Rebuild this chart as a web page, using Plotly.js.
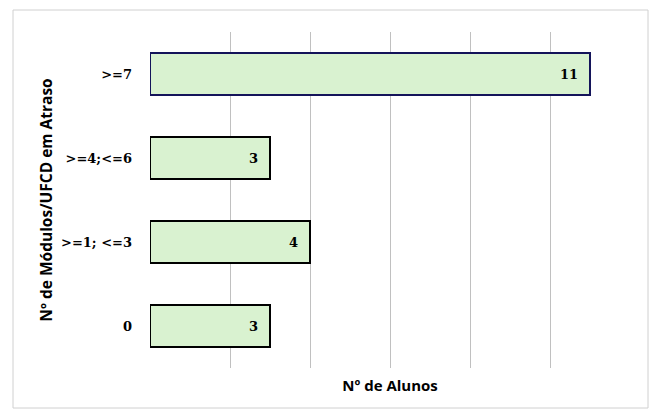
<!DOCTYPE html>
<html>
<head>
<meta charset="utf-8">
<script src="https://cdn.plot.ly/plotly-3.0.1.min.js"></script>
<style>html,body{margin:0;padding:0;background:#fff;}#chart{width:654px;height:409px;}</style>
</head>
<body>
<div id="chart"></div>
<script>
var categories = ["0", ">=1; <=3", ">=4;<=6", ">=7"];
var alunos = [3, 4, 3, 11];
var outlineColors = ["#000000", "#000000", "#000000", "#14145a"];

var trace = {
  type: "bar",
  orientation: "h",
  x: alunos,
  y: categories,
  marker: {color: "#d9f2d0", line: {color: outlineColors, width: 2}},
  width: 0.5,
  hoverinfo: "none"
};

var serif = {family: "DejaVu Serif, serif", size: 13, color: "#000", weight: "bold"};
var sans = {family: "Open Sans, sans-serif", size: 15, color: "#000", weight: "bold"};
var sansY = {family: "Open Sans, sans-serif", size: 15.5, color: "#000", weight: "bold"};

var annotations = alunos.map(function(v, i){
  return {x: v, y: categories[i], xref: "x", yref: "y", text: String(v),
    showarrow: false, xanchor: "right", xshift: -10, font: serif};
});

var layout = {
  width: 654, height: 409,
  margin: {l: 150, r: 24, t: 32, b: 41},
  paper_bgcolor: "#fff", plot_bgcolor: "#fff",
  showlegend: false,
  xaxis: {
    range: [0, 12], dtick: 2, tick0: 0, showticklabels: false,
    showgrid: true, gridcolor: "#c0c0c0", gridwidth: 1, zeroline: false,
    showline: false, ticks: "", fixedrange: true,
    title: {text: "Nº de Alunos", standoff: 12, font: sans}
  },
  yaxis: {
    showgrid: false, zeroline: false, showline: false, ticks: "",
    ticklabelstandoff: 17,
    tickfont: serif,
    title: {text: "Nº de Módulos/UFCD em Atraso", standoff: 4, font: sansY}
  },
  annotations: annotations,
  shapes: [{type: "rect", xref: "paper", yref: "paper",
    x0: (13 - 150) / 480, x1: (648 - 150) / 480,
    y0: -(408 - 368) / 336, y1: 1 + (32 - 10) / 336,
    line: {color: "#d0d0d0", width: 1}, fillcolor: "rgba(0,0,0,0)", layer: "below"}]
};

Plotly.newPlot("chart", [trace], layout, {displayModeBar: false, staticPlot: true});
</script>
</body>
</html>
